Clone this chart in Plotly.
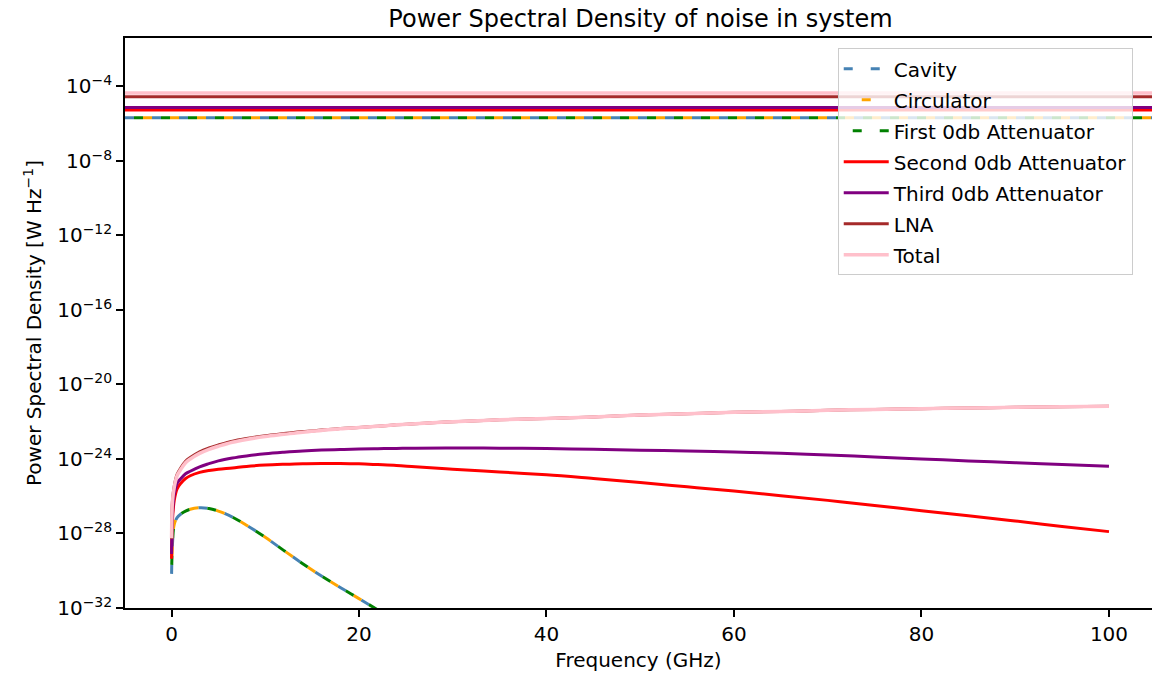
import plotly.graph_objects as go

# ---------------- data ----------------
freq_ghz = [0.01, 0.1, 0.3, 0.6, 1, 1.5, 2, 3, 4, 5, 6.5, 8, 10, 12, 14, 16, 18,
            20, 22, 24, 26, 30, 35, 40, 45, 50, 55, 60, 65, 70, 75, 80, 85, 90, 95, 100]

freq_low = [0.01, 0.1, 0.3, 0.6, 1, 1.5, 2, 3, 4, 5, 6.5, 8, 10, 12, 14, 16, 18, 20, 22, 24]
cavity_psd = [6.8e-31, 2.5e-29, 3.2e-28, 7.1e-28, 1.12e-27, 1.6e-27, 2.0e-27, 2.4e-27,
              2.2e-27, 1.6e-27, 7.6e-28, 2.8e-28, 6.3e-29, 1.2e-29, 2.4e-30, 5.2e-31,
              1.26e-31, 3.2e-32, 7.9e-33, 2.0e-33]
circulator_psd = list(cavity_psd)
first_att_psd = list(cavity_psd)

second_att_psd = [4.4e-30, 5.0e-28, 6.3e-27, 2.5e-26, 5.0e-26, 8.9e-26, 1.26e-25, 1.9e-25,
                  2.4e-25, 2.8e-25, 3.3e-25, 4.0e-25, 4.7e-25, 5.2e-25, 5.6e-25, 5.75e-25,
                  5.75e-25, 5.5e-25, 5.0e-25, 4.5e-25, 3.8e-25, 2.8e-25, 2.0e-25, 1.41e-25,
                  8.9e-26, 5.5e-26, 3.2e-26, 1.9e-26, 1.07e-26, 6.0e-27, 3.2e-27, 1.66e-27,
                  8.9e-28, 4.7e-28, 2.4e-28, 1.26e-28]

third_att_psd = [7.9e-30, 1.0e-27, 1.26e-26, 5.0e-26, 8.9e-26, 1.6e-25, 2.2e-25, 3.8e-25,
                 5.6e-25, 7.9e-25, 1.12e-24, 1.45e-24, 1.9e-24, 2.3e-24, 2.7e-24, 3.0e-24,
                 3.2e-24, 3.4e-24, 3.55e-24, 3.7e-24, 3.8e-24, 3.9e-24, 3.8e-24, 3.6e-24,
                 3.3e-24, 2.95e-24, 2.7e-24, 2.4e-24, 2.0e-24, 1.62e-24, 1.29e-24, 1.0e-24,
                 7.9e-25, 6.3e-25, 5.0e-25, 4.1e-25]

lna_psd = [5.0e-29, 5.6e-27, 3.7e-26, 1.5e-25, 3.4e-25, 7.6e-25, 1.2e-24, 2.45e-24,
           3.9e-24, 5.6e-24, 9.1e-24, 1.26e-23, 1.78e-23, 2.3e-23, 2.95e-23, 3.55e-23,
           4.3e-23, 4.9e-23, 5.75e-23, 6.8e-23, 7.8e-23, 1.0e-22, 1.26e-22, 1.5e-22,
           1.78e-22, 2.3e-22, 2.7e-22, 3.2e-22, 3.55e-22, 4.1e-22, 4.6e-22, 5.0e-22,
           5.5e-22, 5.9e-22, 6.3e-22, 6.8e-22]

total_psd = [5.5e-29, 5.0e-27, 3.2e-26, 1.26e-25, 2.8e-25, 6.3e-25, 1.0e-24, 2.0e-24,
             3.3e-24, 4.8e-24, 7.9e-24, 1.12e-23, 1.6e-23, 2.1e-23, 2.75e-23, 3.4e-23,
             4.2e-23, 4.9e-23, 5.75e-23, 6.8e-23, 7.8e-23, 1.0e-22, 1.26e-22, 1.5e-22,
             1.78e-22, 2.3e-22, 2.7e-22, 3.2e-22, 3.55e-22, 4.1e-22, 4.6e-22, 5.0e-22,
             5.5e-22, 5.9e-22, 6.3e-22, 6.8e-22]

# constant (horizontal) levels
level_names = ["Cavity", "Circulator", "First 0db Attenuator", "Second 0db Attenuator",
               "Third 0db Attenuator", "LNA", "Total"]
level_values = [2.1e-6, 2.1e-6, 2.1e-6, 5.4e-6, 7.4e-6, 2.8e-5, 4.5e-5]

y_tick_exponents = [-32, -28, -24, -20, -16, -12, -8, -4]
x_tick_values = [0, 20, 40, 60, 80, 100]

# ---------------- styling ----------------
x_range = [-4.96, 104.59]
y_range_log = [-32, -1.4]

styles = {
    "Cavity": dict(color="#4682B4", width=3, dash="9px,18px"),
    "Circulator": dict(color="#FFA500", width=3, dash="0px,18px,9px,0px"),
    "First 0db Attenuator": dict(color="#008000", width=3, dash="0px,9px,9px,9px"),
    "Second 0db Attenuator": dict(color="red", width=3),
    "Third 0db Attenuator": dict(color="purple", width=3),
    "LNA": dict(color="brown", width=3),
    "Total": dict(color="pink", width=3.5),
}

series = [
    ("Cavity", freq_low, cavity_psd),
    ("Circulator", freq_low, circulator_psd),
    ("First 0db Attenuator", freq_low, first_att_psd),
    ("Second 0db Attenuator", freq_ghz, second_att_psd),
    ("Third 0db Attenuator", freq_ghz, third_att_psd),
    ("LNA", freq_ghz, lna_psd),
    ("Total", freq_ghz, total_psd),
]

fig = go.Figure()
for (name, xs, ys), level in zip(series, level_values):
    st = styles[name]
    fig.add_trace(go.Scatter(
        x=xs, y=ys, mode="lines", name=name, line=st,
        legendgroup=name, showlegend=True, line_shape="spline"))
    fig.add_trace(go.Scatter(
        x=x_range, y=[level, level], mode="lines", name=name, line=st,
        legendgroup=name, showlegend=False, hoverinfo="skip"))

font_family = "DejaVu Sans"
fig.update_layout(
    width=1152, height=675,
    margin=dict(l=125, r=0, t=38, b=67),
    paper_bgcolor="white", plot_bgcolor="white",
    font=dict(family=font_family, size=20, color="black"),
    title=dict(text="Power Spectral Density of noise in system",
               x=(125 + 1156) / 2 / 1152, xanchor="center", y=0.973, yanchor="middle",
               font=dict(size=24, color="black")),
    showlegend=True,
    legend=dict(
        x=0.694, y=0.982, xanchor="left", yanchor="top",
        bgcolor="rgba(255,255,255,0.8)", bordercolor="#cccccc", borderwidth=1,
        font=dict(size=20), traceorder="grouped", tracegroupgap=2, itemwidth=45),
)
fig.update_xaxes(
    range=x_range, showgrid=False, zeroline=False,
    showline=True, linecolor="black", linewidth=1.6, mirror=True,
    ticks="outside", ticklen=7, tickwidth=1.6, tickcolor="black",
    tickvals=x_tick_values,
    title=dict(text="Frequency (GHz)", standoff=8, font=dict(size=20)),
    tickfont=dict(size=20),
)
fig.update_yaxes(
    type="log", range=y_range_log, showgrid=False, zeroline=False,
    showline=True, linecolor="black", linewidth=1.6, mirror=False,
    ticks="outside", ticklen=7, tickwidth=1.6, tickcolor="black",
    tickvals=[10.0 ** e for e in y_tick_exponents],
    ticktext=[f"10<sup>\u2212{abs(e)}</sup>" for e in y_tick_exponents],
    title=dict(text="Power Spectral Density [W Hz<sup>\u22121</sup>]", standoff=10,
               font=dict(size=20)),
    tickfont=dict(size=20),
)

fig.write_html("out.html")
